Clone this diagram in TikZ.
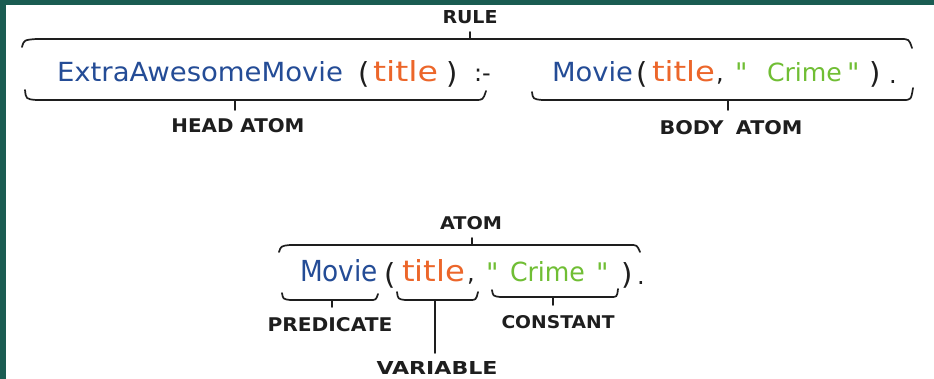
\documentclass[tikz,border=0pt]{standalone}
\usepackage{fontspec}
\usepackage{graphicx}
\setmainfont{DejaVu Sans}
\newfontfamily\qfont{DejaVu Sans}
\definecolor{framecol}{RGB}{26,92,82}
\definecolor{predblue}{RGB}{36,76,150}
\definecolor{varorange}{RGB}{236,102,42}
\definecolor{constgreen}{RGB}{112,190,52}
\definecolor{ink}{RGB}{30,30,30}
\newcommand{\fitbox}[3]{\resizebox{#1pt}{#2pt}{#3}}
\newcommand{\sq}{{\qfont"}}
\begin{document}
\begin{tikzpicture}[x=1pt,y=-1pt,
  brace/.style={line width=1.7pt, line cap=round, line join=round, draw=ink},
  word/.style={inner sep=0pt, outer sep=0pt, anchor=base west},
  lbl/.style={inner sep=0pt, outer sep=0pt, text=ink, anchor=center, font=\bfseries},
  paren/.style={inner sep=0pt, outer sep=0pt, anchor=base west, text=ink, font=\fontsize{29}{32}\selectfont},
  punct/.style={inner sep=0pt, outer sep=0pt, anchor=base west, text=ink, font=\fontsize{24}{28}\selectfont},
  quot/.style={inner sep=0pt, outer sep=0pt, anchor=base west, text=constgreen, font=\fontsize{27}{30}\selectfont}]
\useasboundingbox (0,0) rectangle (934,379);
\fill[white] (0,0) rectangle (934,379);
\fill[framecol] (0,0) rectangle (934,5);
\fill[framecol] (0,0) rectangle (6,379);

% ---------- RULE ----------
\node[lbl] (rule) at (470,17) {\fitbox{55}{13}{RULE}};
\coordinate (ruleL) at (22,47);
\coordinate (ruleR) at (912,48);
\coordinate (ruleM) at (470,39);
\draw[brace] (ruleL) .. controls (24,40) .. (36,39) -- (900,39) .. controls (909,39) .. (ruleR);
\draw[brace] (ruleM) -- ++(0,-7);

% row 1 text
\node[word, text=predblue] (head) at (57,82) {\fitbox{286}{20}{ExtraAwesomeMovie}};
\node[paren] (hop) at (358,84) {(};
\node[word, text=varorange] (hvar) at (373,82) {\fitbox{65}{21}{title}};
\node[paren] (hcp) at (446,84) {)};
\node[punct] (neck) at (474,82) {:-};
\node[word, text=predblue] (bpred) at (552,82) {\fitbox{81}{20}{Movie}};
\node[paren] (bop) at (636,84) {(};
\node[word, text=varorange] (bvar) at (652,82) {\fitbox{63}{21}{title}};
\node[punct] (bcomma) at (716,82) {,};
\node[quot] (bq1) at (735,83) {\sq};
\node[word, text=constgreen] (bconst) at (767,82) {\fitbox{75}{19}{Crime}};
\node[quot] (bq2) at (847,83) {\sq};
\node[paren] (bcp) at (869,84) {)};
\node[punct] (bdot) at (889,84) {.};

% head brace
\coordinate (headL) at (25,90);
\coordinate (headR) at (486,91);
\coordinate (headM) at (235,100);
\draw[brace] (headL) .. controls (26,99) .. (36,100) -- (475,100) .. controls (483,100) .. (headR);
\node[lbl] (headlbl) at (238,126) {\fitbox{133}{14}{HEAD ATOM}};
\draw[brace] (headM) -- ++(0,10);

% body brace
\coordinate (bodyL) at (532,92);
\coordinate (bodyR) at (913,88);
\coordinate (bodyM) at (728,100);
\draw[brace] (bodyL) .. controls (533,99) .. (542,100) -- (903,100) .. controls (911,100) .. (bodyR);
\node[lbl] (bodylbl) at (731,128) {\fitbox{143}{14}{BODY\hspace{0.6em}ATOM}};
\draw[brace] (bodyM) -- ++(0,10);

% ---------- ATOM ----------
\node[lbl] (atomlbl) at (471,223) {\fitbox{62}{13}{ATOM}};
\coordinate (atomL) at (279,252);
\coordinate (atomR) at (640,252);
\coordinate (atomM) at (472,245);
\draw[brace] (atomL) .. controls (281,246) .. (290,245) -- (630,245) .. controls (637,245) .. (atomR);
\draw[brace] (atomM) -- ++(0,-7);

% row 2 text
\node[word, text=predblue] (pred) at (300,282) {\fitbox{78}{22}{Movie}};
\node[paren] (op) at (384,284) {(};
\node[word, text=varorange] (var) at (402,282) {\fitbox{63}{22}{title}};
\node[punct] (comma) at (467,282) {,};
\node[quot] (q1) at (486,283) {\sq};
\node[word, text=constgreen] (const) at (510,282) {\fitbox{75}{20}{Crime}};
\node[quot] (q2) at (596,283) {\sq};
\node[paren] (cp) at (621,284) {)};
\node[punct] (dot) at (637,284) {.};

% predicate brace
\coordinate (predL) at (282,293);
\coordinate (predR) at (378,294);
\coordinate (predM) at (332,300);
\draw[brace] (predL) .. controls (283,299) .. (290,300) -- (370,300) .. controls (376,300) .. (predR);
\draw[brace] (predM) -- ++(0,7);
\node[lbl] (predlbl) at (330,325) {\fitbox{125}{14}{PREDICATE}};

% variable brace
\coordinate (varL) at (397,292);
\coordinate (varR) at (478,292);
\coordinate (varM) at (435,300);
\node[lbl] (varlbl) at (437,368) {\fitbox{121}{13}{VARIABLE}};
\draw[brace] (varL) .. controls (398,299) .. (405,300) -- (470,300) .. controls (476,300) .. (varR);
\draw[brace] (varM) -- ++(0,53);

% constant brace
\coordinate (constL) at (492,290);
\coordinate (constR) at (618,289);
\coordinate (constM) at (553,297);
\draw[brace] (constL) .. controls (493,296) .. (500,297) -- (611,297) .. controls (617,297) .. (constR);
\draw[brace] (constM) -- ++(0,8);
\node[lbl] (constlbl) at (558,322) {\fitbox{113}{13}{CONSTANT}};
\end{tikzpicture}
\end{document}
